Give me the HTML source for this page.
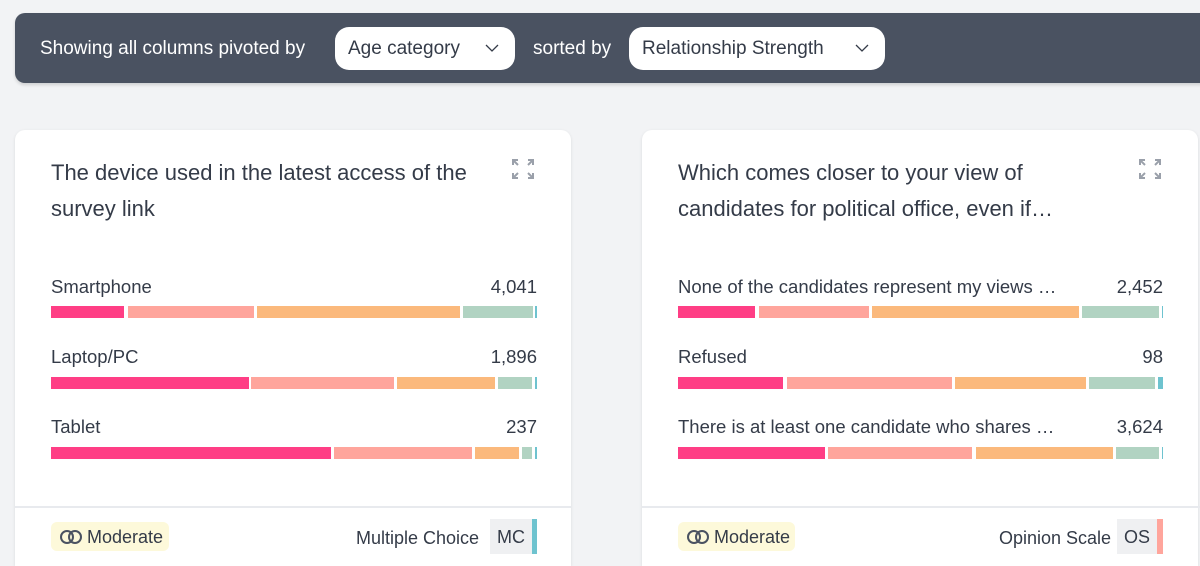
<!DOCTYPE html>
<html style="width:1200px;height:566px;overflow:hidden"><head><meta charset="utf-8"><style>
*{margin:0;padding:0;box-sizing:border-box}
body{width:1200px;height:566px;overflow:hidden;background:#f2f3f5;font-family:"Liberation Sans",sans-serif;color:#343b48;position:relative}
.top{position:absolute;left:15px;top:13px;width:1200px;height:70px;background:#4a5261;border-radius:10px;box-shadow:0 2px 3px rgba(0,0,0,.15)}
.t{position:absolute;color:#fff;font-size:19px;top:38px}
.dd{position:absolute;top:27px;height:43px;background:#fff;border-radius:14px;font-size:19px;color:#343b48;line-height:44px;padding-left:13px}
.dd svg{position:absolute;right:16px;top:17px}
.card{position:absolute;top:130px;width:556px;height:436px;background:#fff;border-radius:10px 10px 0 0;box-shadow:0 1px 3px rgba(0,0,0,.1)}
.title{position:absolute;left:36px;top:25px;font-size:22px;line-height:36px;color:#343b48;width:440px}
.ic{position:absolute;left:496px;top:28px}
.lab{position:absolute;font-size:18.5px;color:#343b48}
.bar{position:absolute;height:12px}
.div{position:absolute;left:0;right:0;border-top:2px solid #e8eaee}
.badge{position:absolute;height:29px;background:#fdf9da;border-radius:6px;font-size:18px;line-height:30px;padding-left:36px}
.badge svg{position:absolute;left:8px;top:7px}
.type{position:absolute;height:35px;background:#eff0f2;font-size:18px;line-height:36px;text-align:center}
</style></head><body>
<div class="top"></div>
<div class="t" style="left:40px">Showing all columns pivoted by</div>
<div class="dd" style="left:335px;width:180px">Age category<svg width="14" height="9"><path d="M1 1l6 6 6-6" stroke="#343b48" fill="none" stroke-width="1.3"/></svg></div>
<div class="t" style="left:533px">sorted by</div>
<div class="dd" style="left:629px;width:256px">Relationship Strength<svg width="14" height="9"><path d="M1 1l6 6 6-6" stroke="#343b48" fill="none" stroke-width="1.3"/></svg></div>

<div class="card" style="left:15px">
<div class="title">The device used in the latest access of the survey link</div>
<svg class="ic" width="24" height="22" viewBox="0 0 24 22" stroke="#9aa0aa" stroke-width="2" fill="none"><path d="M2 7V2h5M2 2l5 5M22 7V2h-5M22 2l-5 5M2 15v5h5M2 20l5-5M22 15v5h-5M22 20l-5-5"/></svg>
</div>
<div class="card" style="left:642px">
<div class="title">Which comes closer to your view of candidates for political office, even if…</div>
<svg class="ic" width="24" height="22" viewBox="0 0 24 22" stroke="#9aa0aa" stroke-width="2" fill="none"><path d="M2 7V2h5M2 2l5 5M22 7V2h-5M22 2l-5 5M2 15v5h5M2 20l5-5M22 15v5h-5M22 20l-5-5"/></svg>
</div>

<div class="lab" style="left:51px;top:276px">Smartphone</div><div class="lab" style="left:437px;width:100px;text-align:right;top:276px">4,041</div>
<div class="lab" style="left:51px;top:346px">Laptop/PC</div><div class="lab" style="left:437px;width:100px;text-align:right;top:346px">1,896</div>
<div class="lab" style="left:51px;top:416px">Tablet</div><div class="lab" style="left:437px;width:100px;text-align:right;top:416px">237</div>
<div class="lab" style="left:678px;top:276px">None of the candidates represent my views …</div><div class="lab" style="left:1063px;width:100px;text-align:right;top:276px">2,452</div>
<div class="lab" style="left:678px;top:346px">Refused</div><div class="lab" style="left:1063px;width:100px;text-align:right;top:346px">98</div>
<div class="lab" style="left:678px;top:416px">There is at least one candidate who shares …</div><div class="lab" style="left:1063px;width:100px;text-align:right;top:416px">3,624</div>

<div class="bar" style="top:306px;left:51px;width:73px;background:#ff3e85"></div>
<div class="bar" style="top:306px;left:128px;width:126px;background:#ffa59c"></div>
<div class="bar" style="top:306px;left:257px;width:203px;background:#fbb97c"></div>
<div class="bar" style="top:306px;left:463px;width:70px;background:#b1d3c2"></div>
<div class="bar" style="top:306px;left:535px;width:2px;background:#6ec3cf"></div>
<div class="bar" style="top:377px;left:51px;width:198px;background:#ff3e85"></div>
<div class="bar" style="top:377px;left:251px;width:143px;background:#ffa59c"></div>
<div class="bar" style="top:377px;left:397px;width:98px;background:#fbb97c"></div>
<div class="bar" style="top:377px;left:498px;width:34px;background:#b1d3c2"></div>
<div class="bar" style="top:377px;left:535px;width:2px;background:#6ec3cf"></div>
<div class="bar" style="top:447px;left:51px;width:280px;background:#ff3e85"></div>
<div class="bar" style="top:447px;left:334px;width:138px;background:#ffa59c"></div>
<div class="bar" style="top:447px;left:475px;width:44px;background:#fbb97c"></div>
<div class="bar" style="top:447px;left:522px;width:10px;background:#b1d3c2"></div>
<div class="bar" style="top:447px;left:535px;width:2px;background:#6ec3cf"></div>
<div class="bar" style="top:306px;left:678px;width:77px;background:#ff3e85"></div>
<div class="bar" style="top:306px;left:759px;width:110px;background:#ffa59c"></div>
<div class="bar" style="top:306px;left:872px;width:207px;background:#fbb97c"></div>
<div class="bar" style="top:306px;left:1082px;width:77px;background:#b1d3c2"></div>
<div class="bar" style="top:306px;left:1162px;width:1px;background:#6ec3cf"></div>
<div class="bar" style="top:377px;left:678px;width:105px;background:#ff3e85"></div>
<div class="bar" style="top:377px;left:787px;width:165px;background:#ffa59c"></div>
<div class="bar" style="top:377px;left:955px;width:131px;background:#fbb97c"></div>
<div class="bar" style="top:377px;left:1089px;width:66px;background:#b1d3c2"></div>
<div class="bar" style="top:377px;left:1158px;width:5px;background:#6ec3cf"></div>
<div class="bar" style="top:447px;left:678px;width:147px;background:#ff3e85"></div>
<div class="bar" style="top:447px;left:828px;width:144px;background:#ffa59c"></div>
<div class="bar" style="top:447px;left:976px;width:137px;background:#fbb97c"></div>
<div class="bar" style="top:447px;left:1116px;width:43px;background:#b1d3c2"></div>
<div class="bar" style="top:447px;left:1162px;width:1px;background:#6ec3cf"></div>

<div style="position:absolute;left:15px;top:0;width:556px;height:1px"><div class="div" style="top:506px"></div></div>
<div style="position:absolute;left:642px;top:0;width:558px;height:1px"><div class="div" style="top:506px"></div></div>
<div class="badge" style="left:51px;top:522px;width:118px"><svg width="24" height="16" viewBox="0 0 24 16" fill="none" stroke="#4a5261" stroke-width="2"><circle cx="8" cy="8" r="6"/><circle cx="16" cy="8" r="6"/></svg>Moderate</div>
<div class="lab" style="left:356px;top:528px;font-size:18px">Multiple Choice</div>
<div class="type" style="left:490px;top:519px;width:42px">MC</div>
<div style="position:absolute;left:532px;top:519px;width:5px;height:35px;background:#6ec3cf"></div>
<div class="badge" style="left:678px;top:522px;width:117px"><svg width="24" height="16" viewBox="0 0 24 16" fill="none" stroke="#4a5261" stroke-width="2"><circle cx="8" cy="8" r="6"/><circle cx="16" cy="8" r="6"/></svg>Moderate</div>
<div class="lab" style="left:999px;top:528px;font-size:18px">Opinion Scale</div>
<div class="type" style="left:1117px;top:519px;width:40px">OS</div>
<div style="position:absolute;left:1157px;top:519px;width:6px;height:35px;background:#ffa59c"></div>
</body></html>
